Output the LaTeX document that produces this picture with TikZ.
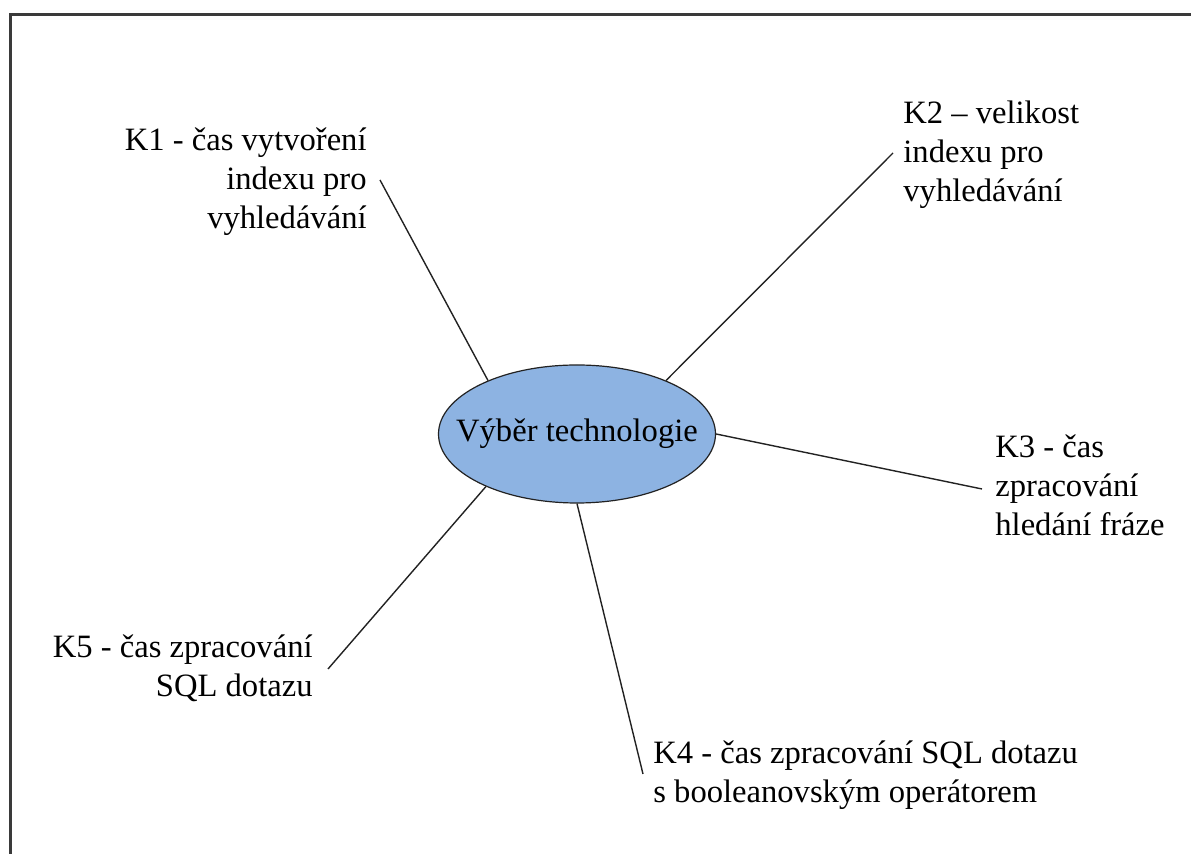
\documentclass[tikz,border=0pt]{standalone}
\usepackage{fontspec}
\IfFontExistsTF{LiberationSerif-Regular.ttf}
  {\setmainfont{LiberationSerif-Regular.ttf}[BoldFont=LiberationSerif-Bold.ttf]}
  {\setmainfont{Liberation Serif}}
\usetikzlibrary{shapes.geometric}
\definecolor{hubfill}{HTML}{8DB3E2}
\definecolor{inkline}{HTML}{222222}
\definecolor{framegray}{HTML}{3A3A3A}
\tikzset{
  hub/.style={ellipse, draw=inkline, line width=0.6pt, fill=hubfill,
    minimum width=138.5pt, minimum height=69pt, inner sep=0pt,
    font=\fontsize{16.3}{19.5}\selectfont},
  crit/.style={inner sep=0pt, font=\fontsize{16.3}{19.5}\selectfont, text=black},
  critR/.style={crit, align=right},
  critL/.style={crit, align=left},
  spoke/.style={draw=inkline, line width=0.7pt}
}
\begin{document}
\begin{tikzpicture}[x=0.5pt, y=-0.5pt]
  \useasboundingbox (0,0) rectangle (1191,854);
  % outer frame, running past the right and bottom edges
  \begin{scope}
    \clip (0,0) rectangle (1191,854);
    \draw[framegray, line width=1.5pt] (10.5,14.5) rectangle (1220,880);
  \end{scope}

  % central topic (zero-width box so the ellipse keeps its own size)
  \node[hub] (c) at (577,434) {\makebox[0pt]{Výběr technologie}};

  % criteria
  \node[critR, anchor=north east] (k1) at (367,127) {K1 - čas vytvoření\\indexu pro\\vyhledávání};
  \node[critL, anchor=north west] (k2) at (903,100) {K2 – velikost\\indexu pro\\vyhledávání};
  \node[critL, anchor=north west] (k3) at (995,434) {K3 - čas\\zpracování\\hledání fráze};
  \node[critL, anchor=north west] (k4) at (653,740) {K4 - čas zpracování SQL dotazu\\s booleanovským operátorem};
  \node[critR, anchor=north east] (k5) at (313,634) {K5 - čas zpracování\\SQL dotazu};

  % free ends of the spokes, next to each label
  \coordinate (e1) at (380,180);
  \coordinate (e2) at (893,153);
  \coordinate (e3) at (982,489);
  \coordinate (e4) at (643,774);
  \coordinate (e5) at (328,669);

  \draw[spoke] (c.149.6) -- (e1);
  \draw[spoke] (c.31.2) -- (e2);
  \draw[spoke] (c.0) -- (e3);
  \draw[spoke] (c.270) -- (e4);
  \draw[spoke] (c.210) -- (e5);
\end{tikzpicture}
\end{document}
